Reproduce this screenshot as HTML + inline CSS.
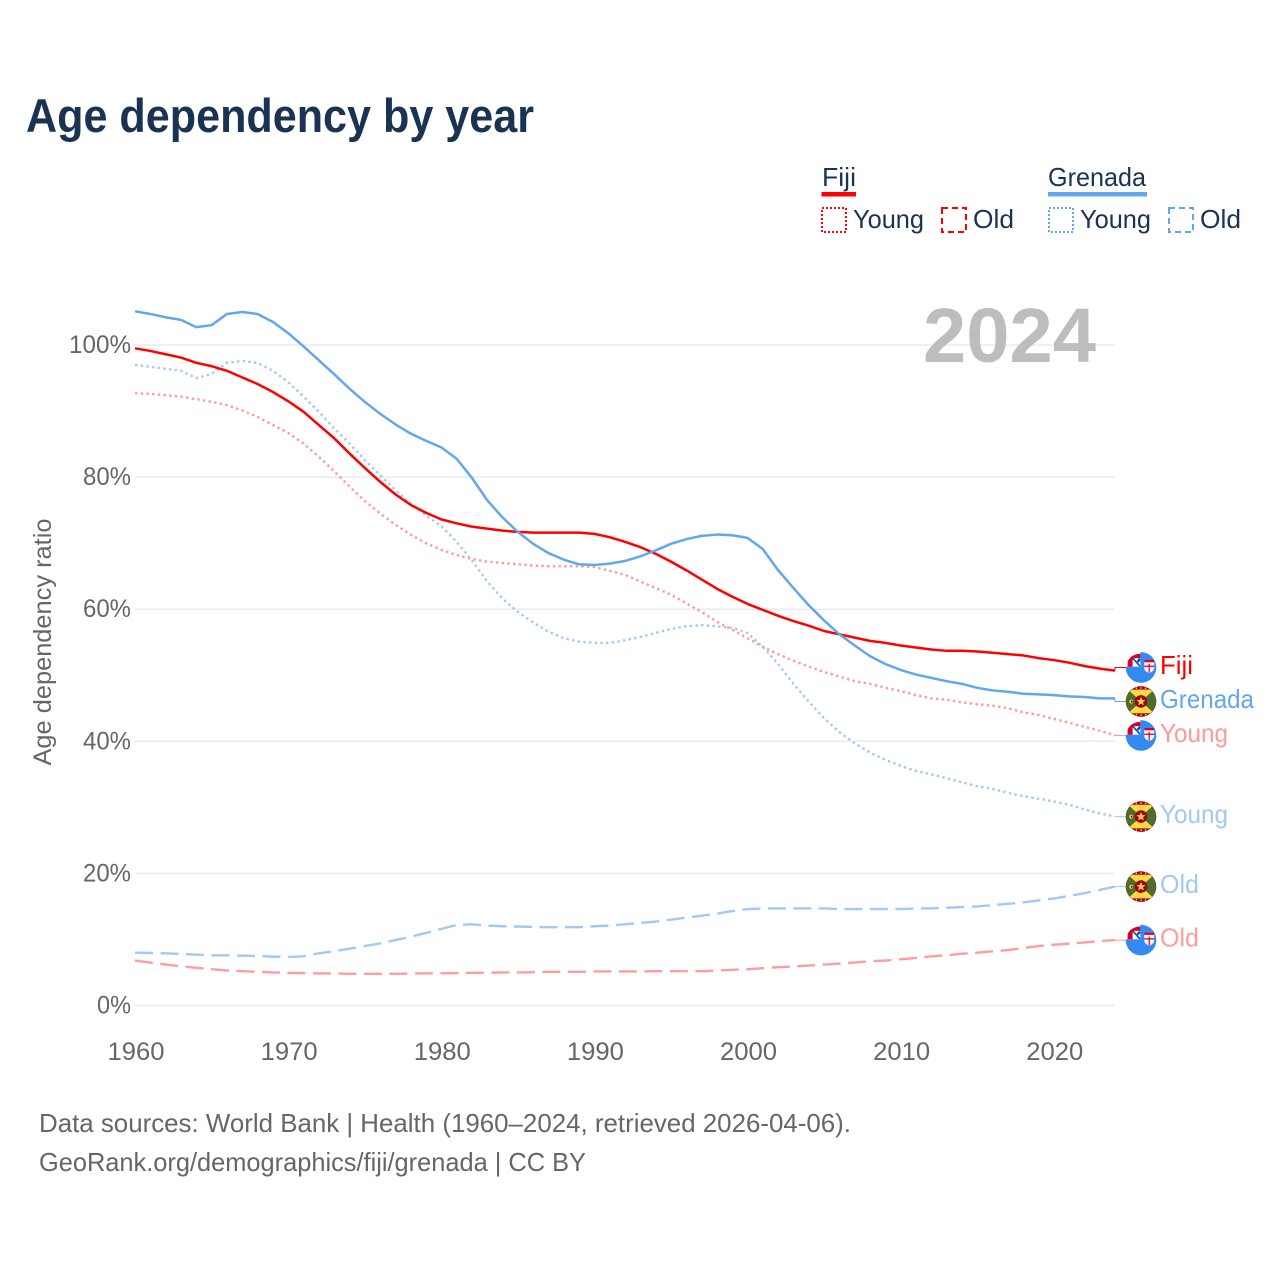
<!DOCTYPE html>
<html lang="en">
<head>
<meta charset="utf-8">
<title>Age dependency by year</title>
<style>
html,body{margin:0;padding:0;background:#fff}
svg{display:block}
text{font-family:"Liberation Sans",sans-serif}
</style>
</head>
<body>
<svg id="chart" xmlns="http://www.w3.org/2000/svg" width="1280" height="1280" viewBox="0 0 1280 1280">
<defs>
<clipPath id="flag-clip"><circle cx="0" cy="0" r="15"/></clipPath>
<symbol id="flag-fiji" overflow="visible" viewBox="-16 -16 32 32" width="32" height="32">
<circle r="15.3" fill="#338af3"/>
<path d="M-15.5,-0.8 H-0.6 V-16 H-15.5 Z" fill="#fff"/>
<path d="M-13.4,-0.8 V-6 A13.5,13.5 0 0 1 -0.6,-13.6 V-9.2 H-7 L-8.4,-7.8 V-0.8 Z" fill="#d80027"/>
<path d="M-8,-9 L-1,-1.2" stroke="#0052b4" stroke-width="1.6"/>
<path d="M-1,-8.5 L-3.5,-5.5" stroke="#0052b4" stroke-width="2.4"/>
<path d="M3.2,-7.5 H13.2 V0 Q13.2,4 8.2,5.5 Q3.2,4 3.2,0 Z" fill="#f3f3f3"/>
<path d="M7.6,-3.5 H8.8 V5 H7.6 Z M3.2,-1.8 H13.2 V-0.6 H3.2 Z M3.2,-7.5 H13.2 V-5.2 H3.2 Z" fill="#d80027"/>
</symbol>
<symbol id="flag-grenada" overflow="visible" viewBox="-16 -16 32 32" width="32" height="32">
<circle r="15.3" fill="#a2001d"/>
<g clip-path="url(#flag-clip)">
<rect x="-15.3" y="-11.8" width="30.6" height="23.6" fill="#496e2d"/>
<path d="M-13,-11.8 H13 L0,0 L13,11.8 H-13 L0,0 Z" fill="#ffda44"/>
</g>
<circle r="6.3" fill="#a2001d"/>
<path d="M0,-4.6 L1.3,-1.5 L4.5,-1.4 L2,0.7 L2.8,3.9 L0,2.1 L-2.8,3.9 L-2,0.7 L-4.5,-1.4 L-1.3,-1.5 Z" fill="#ffda44"/>
<ellipse cx="-9.8" cy="0.2" rx="1.8" ry="2" fill="#ffda44"/>
<ellipse cx="-9.3" cy="0.2" rx="0.9" ry="1.1" fill="#a2001d"/>
<circle cx="-4.5" cy="-13.3" r="0.8" fill="#ffda44"/><circle cx="0" cy="-13.5" r="0.8" fill="#ffda44"/><circle cx="4.5" cy="-13.3" r="0.8" fill="#ffda44"/>
<circle cx="-4.5" cy="13.3" r="0.8" fill="#ffda44"/><circle cx="0" cy="13.5" r="0.8" fill="#ffda44"/><circle cx="4.5" cy="13.3" r="0.8" fill="#ffda44"/>
</symbol>
</defs>

<text x="26" y="132" font-size="47" font-weight="700" fill="#1a3353" textLength="508" lengthAdjust="spacingAndGlyphs">Age dependency by year</text>

<g>
<g>
<text x="822" y="186" font-size="26" fill="#1a3353" textLength="34" lengthAdjust="spacingAndGlyphs">Fiji</text>
<rect x="821.5" y="192" width="34.5" height="4.5" fill="#ff0000"/>
<rect x="822" y="208" width="24" height="24" fill="none" stroke="#ff0000" stroke-width="2" stroke-dasharray="2 2"/>
<text x="853" y="228" font-size="26" fill="#1a3353" textLength="71" lengthAdjust="spacingAndGlyphs">Young</text>
<rect x="942" y="208" width="24" height="24" fill="none" stroke="#ff0000" stroke-width="2" stroke-dasharray="6 4"/>
<text x="973" y="228" font-size="26" fill="#1a3353" textLength="41" lengthAdjust="spacingAndGlyphs">Old</text>
</g>
<g>
<text x="1048" y="186" font-size="26" fill="#1a3353" textLength="98" lengthAdjust="spacingAndGlyphs">Grenada</text>
<rect x="1048" y="192" width="99" height="4.5" fill="#62a7ee"/>
<rect x="1049" y="208" width="24" height="24" fill="none" stroke="#62a7ee" stroke-width="2" stroke-dasharray="2 2"/>
<text x="1080" y="228" font-size="26" fill="#1a3353" textLength="71" lengthAdjust="spacingAndGlyphs">Young</text>
<rect x="1169" y="208" width="24" height="24" fill="none" stroke="#62a7ee" stroke-width="2" stroke-dasharray="6 4"/>
<text x="1200" y="228" font-size="26" fill="#1a3353" textLength="41" lengthAdjust="spacingAndGlyphs">Old</text>
</g>
</g>

<text transform="translate(51,642) rotate(-90)" text-anchor="middle" font-size="25" fill="#666666" textLength="247" lengthAdjust="spacingAndGlyphs">Age dependency ratio</text>

<g id="grid"></g>
<g id="y-ticks"></g>
<g id="x-ticks"></g>

<text x="923" y="362" font-size="77" font-weight="700" fill="#bdbdbd" textLength="173" lengthAdjust="spacingAndGlyphs">2024</text>

<g id="series"></g>
<g id="end-labels"></g>

<g>
<text x="39" y="1132" font-size="26" fill="#666666" textLength="812" lengthAdjust="spacingAndGlyphs">Data sources: World Bank | Health (1960–2024, retrieved 2026-04-06).</text>
<text x="39" y="1171" font-size="26" fill="#666666" textLength="547" lengthAdjust="spacingAndGlyphs">GeoRank.org/demographics/fiji/grenada | CC BY</text>
</g>
</svg>

<script>
const startYear = 1960;
const yTickValues = [0, 20, 40, 60, 80, 100];
const xTickValues = [1960, 1970, 1980, 1990, 2000, 2010, 2020];

const fijiTotal = [99.5,99.1,98.6,98.1,97.3,96.8,96.1,95.1,94.1,92.9,91.5,89.9,87.9,85.9,83.6,81.4,79.3,77.4,75.8,74.6,73.6,73.0,72.5,72.2,71.9,71.7,71.6,71.6,71.6,71.6,71.4,70.9,70.2,69.4,68.4,67.2,65.9,64.5,63.1,61.9,60.8,59.9,59.0,58.2,57.5,56.7,56.2,55.7,55.2,54.9,54.5,54.2,53.9,53.7,53.7,53.6,53.4,53.2,53.0,52.6,52.3,51.9,51.4,51.0,50.7];
const grenadaTotal = [105.1,104.7,104.2,103.8,102.7,103.0,104.7,105.0,104.7,103.5,101.8,99.8,97.7,95.6,93.4,91.4,89.6,88.0,86.6,85.5,84.5,82.8,79.9,76.5,73.9,71.7,69.9,68.5,67.5,66.8,66.7,66.9,67.3,68.0,68.9,69.9,70.6,71.1,71.3,71.2,70.8,69.1,65.9,63.2,60.6,58.3,56.2,54.5,52.9,51.7,50.8,50.1,49.6,49.1,48.7,48.1,47.7,47.5,47.2,47.1,47.0,46.8,46.7,46.5,46.5];
const fijiYoung = [92.7,92.6,92.4,92.2,91.8,91.4,90.9,90.1,89.1,87.9,86.7,85.1,83.1,80.9,78.6,76.4,74.5,72.8,71.3,70.0,69.0,68.2,67.6,67.2,67.0,66.8,66.6,66.5,66.5,66.5,66.4,65.8,65.2,64.2,63.2,62.2,60.9,59.6,58.1,56.9,55.6,54.3,53.2,52.2,51.3,50.5,49.8,49.1,48.7,48.1,47.6,47.0,46.5,46.3,45.9,45.6,45.4,45.0,44.4,44.0,43.4,42.8,42.2,41.6,40.9];
const grenadaYoung = [97.0,96.7,96.4,96.1,95.0,95.6,97.3,97.6,97.3,96.1,94.4,92.2,89.9,87.4,85.1,82.6,80.3,78.0,76.0,74.2,72.6,70.2,67.4,64.2,61.6,59.6,58.0,56.6,55.6,55.1,54.9,54.9,55.3,55.8,56.4,57.0,57.4,57.6,57.4,57.2,56.4,54.3,51.7,48.7,46.0,43.5,41.4,39.7,38.3,37.2,36.3,35.5,35.0,34.4,33.8,33.2,32.8,32.2,31.7,31.3,30.9,30.4,29.7,29.1,28.6];
const fijiOld = [6.8,6.5,6.2,5.95,5.7,5.5,5.3,5.2,5.1,5.0,4.95,4.9,4.85,4.85,4.8,4.8,4.8,4.8,4.85,4.85,4.9,4.9,4.95,4.95,5.0,5.0,5.05,5.1,5.1,5.1,5.15,5.15,5.15,5.15,5.2,5.2,5.2,5.2,5.3,5.4,5.5,5.65,5.8,5.9,6.05,6.2,6.35,6.5,6.7,6.8,7.0,7.2,7.45,7.6,7.85,8.0,8.2,8.4,8.7,9.0,9.2,9.35,9.55,9.75,9.9];
const grenadaOld = [8.0,7.95,7.9,7.8,7.7,7.6,7.6,7.55,7.5,7.4,7.35,7.45,7.9,8.2,8.6,9.0,9.4,9.9,10.4,11.0,11.6,12.2,12.3,12.1,12.0,11.95,11.9,11.85,11.85,11.85,12.0,12.1,12.3,12.5,12.7,13.0,13.3,13.6,13.9,14.3,14.6,14.7,14.7,14.7,14.7,14.7,14.6,14.6,14.6,14.6,14.6,14.7,14.7,14.8,14.9,15.0,15.2,15.4,15.6,15.9,16.2,16.6,17.0,17.5,18.0];

const NS = 'http://www.w3.org/2000/svg';
const xScale = function (year) { return 135 + (year - startYear) * (980 / 64); };
const yScale = function (value) { return 1005.5 - value * 6.605; };

function svgEl(tag, parent) {
  const el = document.createElementNS(NS, tag);
  parent.appendChild(el);
  return el;
}

const gridGroup = document.getElementById('grid');
const yTickGroup = document.getElementById('y-ticks');
yTickValues.forEach(function (v) {
  const line = svgEl('line', gridGroup);
  
  
  line.setAttribute('x1', 135);
  line.setAttribute('x2', 1115);
  line.setAttribute('y1', yScale(v));
  line.setAttribute('y2', yScale(v));
  line.setAttribute('stroke', '#ebebeb');
  line.setAttribute('stroke-width', 1.5);
  const t = svgEl('text', yTickGroup);
  
  
  t.setAttribute('x', 131);
  t.setAttribute('y', yScale(v) + 8);
  t.setAttribute('text-anchor', 'end');
  t.setAttribute('font-size', 25);
  t.setAttribute('fill', '#666666');
  t.setAttribute('textLength', v === 100 ? 62 : (v === 0 ? 34 : 48));
  t.setAttribute('lengthAdjust', 'spacingAndGlyphs');
  t.textContent = v + '%';
});

const xTickGroup = document.getElementById('x-ticks');
xTickValues.forEach(function (year) {
  const t = svgEl('text', xTickGroup);
  
  
  t.setAttribute('x', xScale(year) + 1);
  t.setAttribute('y', 1060);
  t.setAttribute('text-anchor', 'middle');
  t.setAttribute('font-size', 25);
  t.setAttribute('fill', '#666666');
  t.setAttribute('textLength', 57);
  t.setAttribute('lengthAdjust', 'spacingAndGlyphs');
  t.textContent = year;
});

const seriesList = [
  { key: 'fiji-young', values: fijiYoung, color: '#ff9999', dash: '2.4 3.3', width: 2.4, label: 'Young', flag: 'flag-fiji', textW: 68 },
  { key: 'grenada-young', values: grenadaYoung, color: '#a1c9f4', dash: '2.4 3.3', width: 2.4, label: 'Young', flag: 'flag-grenada', textW: 68 },
  { key: 'fiji-old', values: fijiOld, color: '#ff9c9c', dash: '18 7.5', width: 2.4, label: 'Old', flag: 'flag-fiji', textW: 39 },
  { key: 'grenada-old', values: grenadaOld, color: '#a1c9f4', dash: '18 7.5', width: 2.4, label: 'Old', flag: 'flag-grenada', textW: 39 },
  { key: 'fiji-total', values: fijiTotal, color: '#ff0000', dash: null, width: 2.5, label: 'Fiji', flag: 'flag-fiji', textW: 33 },
  { key: 'grenada-total', values: grenadaTotal, color: '#62a7ee', dash: null, width: 2.5, label: 'Grenada', flag: 'flag-grenada', textW: 94 }
];

const seriesGroup = document.getElementById('series');
seriesList.forEach(function (s) {
  const d = s.values.map(function (v, i) {
    return (i ? 'L' : 'M') + xScale(startYear + i).toFixed(2) + ',' + yScale(v).toFixed(2);
  }).join(' ');
  const p = svgEl('path', seriesGroup);
  
  
  p.setAttribute('d', d);
  p.setAttribute('fill', 'none');
  p.setAttribute('stroke', s.color);
  p.setAttribute('stroke-width', s.width);
  p.setAttribute('stroke-linejoin', 'round');
  if (s.dash) p.setAttribute('stroke-dasharray', s.dash);
});

/* End labels follow the last data value; crowded ones are pushed apart. */
const MIN_GAP = 34;
let clusters = seriesList.map(function (s) {
  return { items: [s], center: yScale(s.values[s.values.length - 1]) };
}).sort(function (a, b) { return a.center - b.center; });
let merged = true;
while (merged) {
  merged = false;
  for (let i = 0; i < clusters.length - 1; i++) {
    const a = clusters[i];
    const b = clusters[i + 1];
    const aBottom = a.center + (a.items.length - 1) * MIN_GAP / 2;
    const bTop = b.center - (b.items.length - 1) * MIN_GAP / 2;
    if (bTop - aBottom < MIN_GAP) {
      const n = a.items.length + b.items.length;
      a.center = (a.center * a.items.length + b.center * b.items.length) / n;
      a.items = a.items.concat(b.items);
      clusters.splice(i + 1, 1);
      merged = true;
      break;
    }
  }
}
const labelGroup = document.getElementById('end-labels');
clusters.forEach(function (c) {
  c.items.forEach(function (s, i) {
    const ly = c.center + (i - (c.items.length - 1) / 2) * MIN_GAP;
    const vy = yScale(s.values[s.values.length - 1]);
    const link = svgEl('path', labelGroup);
    
    
    link.setAttribute('d', 'M1115,' + vy.toFixed(2) + ' V' + ly.toFixed(2) + ' H1126');
    link.setAttribute('fill', 'none');
    link.setAttribute('stroke', s.color);
    link.setAttribute('stroke-width', 1);
    const flag = svgEl('use', labelGroup);
    
    
    flag.setAttribute('href', '#' + s.flag);
    flag.setAttribute('x', 1125);
    flag.setAttribute('y', ly - 16);
    flag.setAttribute('width', 32);
    flag.setAttribute('height', 32);
    const t = svgEl('text', labelGroup);
    
    
    t.setAttribute('x', 1160);
    t.setAttribute('y', ly + 6.5);
    t.setAttribute('font-size', 26);
    t.setAttribute('fill', s.color);
    t.setAttribute('textLength', s.textW);
    t.setAttribute('lengthAdjust', 'spacingAndGlyphs');
    t.textContent = s.label;
  });
});
</script>
</body>
</html>
